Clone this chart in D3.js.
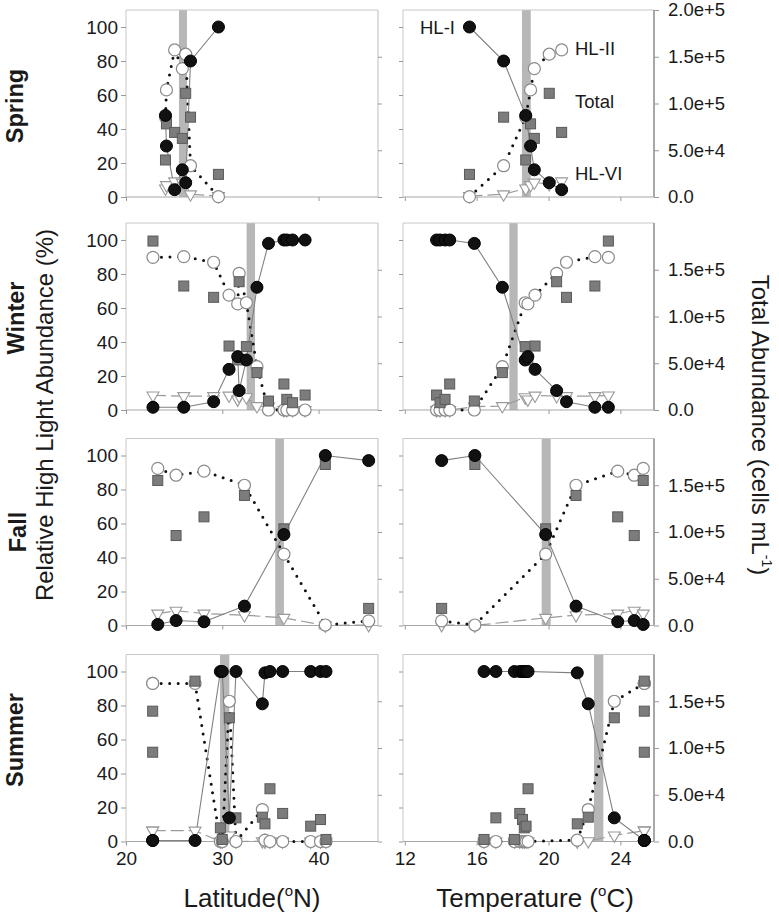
<!DOCTYPE html>
<html><head><meta charset="utf-8">
<script src="https://cdn.jsdelivr.net/npm/d3@7"></script>
<style>
body{margin:0;background:#fff;}
svg{display:block;}
text{font-family:"Liberation Sans",Arial,Helvetica,sans-serif;fill:#1a1a1a;}
</style>
</head><body>
<svg id="c" width="779" height="921"></svg>
<script>
// ---- data ----
const seasons = ["Spring", "Winter", "Fall", "Summer"];
// station rows: [latitude (°N), temperature (°C), HL-I %, HL-II %, HL-VI %, total cells mL-1]
const springData = [
  [29.6, 15.6, 100, 0.2, 0.6, 24200],
  [26.7, 17.5, 80, 18.4, 1.6, 85400],
  [24.2, 19.0, 30, 63, 7, 78200],
  [24.1, 18.73, 48, 47, 5, 39600],
  [25.85, 19.21, 16, 75.5, 8.5, 62700],
  [26.2, 20.04, 8.4, 84, 7.6, 110900],
  [25.05, 20.73, 4.3, 86.5, 9.2, 69100]
];
const winterData = [
  [22.8, 23.33, 1.6, 89.8, 8.6, 180700],
  [26.0, 22.58, 1.6, 90.2, 8.2, 132600],
  [29.1, 21.0, 4.9, 86.9, 8.2, 120500],
  [30.7, 19.25, 23.9, 67.6, 8.5, 68400],
  [31.6, 18.85, 31.4, 62.4, 6.2, 53500],
  [31.75, 20.45, 11.4, 80.4, 8.2, 137200],
  [32.5, 18.7, 29.4, 63.1, 7.5, 67800],
  [33.6, 17.43, 72.2, 25.5, 2.3, 40000],
  [34.8, 15.87, 98, 0, 2, 9600],
  [36.4, 14.5, 100, 0, 0, 27800],
  [36.7, 14.24, 100, 0, 0, 11400],
  [37.3, 13.96, 100, 0, 0, 7800],
  [38.6, 13.77, 100, 0, 0, 16000]
];
const fallData = [
  [23.3, 25.27, 0.6, 92.4, 7.0, 155100],
  [25.2, 24.77, 2.9, 88.4, 8.7, 96200],
  [28.1, 23.85, 2.2, 90.8, 7.0, 116200],
  [32.3, 21.53, 11.4, 82.5, 6.1, 139100],
  [36.4, 19.84, 53.5, 42.0, 4.5, 103400],
  [40.7, 15.9, 100, 0.3, 0, 172200],
  [45.2, 14.05, 97.0, 2.7, 0.3, 18300]
];
const summerData = [
  [22.77, 25.33, 0.6, 93.0, 6.4, 139400],
  [22.77, 25.33, 0.6, 93.0, 6.4, 95500],
  [27.17, 25.33, 0.6, 93.0, 6.4, 171500],
  [29.8, 18.65, 100, 0, 0, 14600],
  [30.0, 16.41, 100, 0, 0, 2200],
  [30.73, 23.66, 13.9, 82.5, 3.6, 132300],
  [31.42, 17.07, 100, 0, 0, 25300],
  [34.16, 22.21, 81, 18.8, 0.2, 26000],
  [34.43, 21.6, 99.2, 0.8, 0, 18900],
  [34.95, 18.86, 100, 0, 0, 56400],
  [36.27, 18.4, 100, 0, 0, 30000],
  [39.18, 18.75, 100, 0, 0, 16400],
  [40.2, 18.55, 100, 0, 0, 23500],
  [40.77, 18.1, 100, 0, 0, 2200]
];
// transition zones (grey bars)
const latBands = [[25.5, 26.33], [32.53, 33.4], [35.5, 36.4], [29.76, 30.73]];
const tempBands = [[18.52, 19.01], [17.82, 18.28], [19.62, 20.12], [22.53, 23.05]];
const latTicks = [20, 30, 40];
const tempTicks = [12, 16, 20, 24];
const pctTicks = [0, 20, 40, 60, 80, 100];
const totalTicks = [0, 5e4, 1e5, 1.5e5, 2e5];
const totalTickLabels = ["0.0", "5.0e+4", "1.0e+5", "1.5e+5", "2.0e+5"];
const seriesNames = ["HL-I", "HL-II", "Total", "HL-VI"];

// ---- drawing ----
const FONT = "Liberation Sans, Arial, Helvetica, sans-serif";
const svg = d3.select("#c");
const seasonData = [springData, winterData, fallData, summerData];
const panelTop = [10, 223, 438.5, 654.5], panelH = 187;
const cols = [
  {key: 0, range: [126, 378], domain: [20, 46.17], ticks: latTicks, bands: latBands},
  {key: 1, range: [403, 654], domain: [11.9, 25.87], ticks: tempTicks, bands: tempBands}
];

function styleAxis(ax) {
  ax.select(".domain").remove();
  ax.attr("font-size", 19).attr("font-family", FONT);
  ax.selectAll(".tick line").attr("stroke", "#999");
  ax.selectAll("text").attr("fill", "#1a1a1a");
}

seasons.forEach((s, i) => {
  const top = panelTop[i], bottom = top + panelH;
  const yP = d3.scaleLinear().domain([0, 110]).range([bottom, top]);
  const yT = d3.scaleLinear().domain([0, 2e5]).range([bottom, top]);
  cols.forEach((c, ci) => {
    const x = d3.scaleLinear().domain(c.domain).range(c.range);
    const g = svg.append("g");
    const data = seasonData[i].slice().sort((a, b) => a[c.key] - b[c.key]);
    const b = c.bands[i];
    g.append("rect").attr("x", x(b[0])).attr("width", x(b[1]) - x(b[0]))
      .attr("y", top).attr("height", panelH).attr("fill", "#b7b7b7");

    // frame
    const [x0, x1] = c.range;
    g.append("line").attr("x1", x0).attr("x2", x1).attr("y1", top).attr("y2", top).attr("stroke", "#c8c8c8");
    g.append("line").attr("x1", x0).attr("x2", x0).attr("y1", top).attr("y2", bottom).attr("stroke", "#c8c8c8");
    g.append("line").attr("x1", x1).attr("x2", x1).attr("y1", top).attr("y2", bottom)
      .attr("stroke", ci === 1 ? "#a8a8a8" : "#bdbdbd").attr("stroke-width", ci === 1 ? 2 : 1);
    g.append("line").attr("x1", x0).attr("x2", x1).attr("y1", bottom).attr("y2", bottom).attr("stroke", "#a8a8a8").attr("stroke-width", 1.2);

    // axes
    if (ci === 0) {
      const a1 = g.append("g").attr("transform", `translate(${x0},0)`)
        .call(d3.axisLeft(yP).tickValues(pctTicks).tickSize(5).tickPadding(3));
      styleAxis(a1);
      const a2 = g.append("g").attr("transform", `translate(${x1},0)`)
        .call(d3.axisRight(yT).tickValues(totalTicks.slice(0, 4)).tickSize(4).tickFormat(""));
      styleAxis(a2);
    } else {
      const a1 = g.append("g").attr("transform", `translate(${x0},0)`)
        .call(d3.axisLeft(yP).tickValues(pctTicks).tickSize(4).tickFormat(""));
      styleAxis(a1);
      const a2 = g.append("g").attr("transform", `translate(${x1},0)`)
        .call(d3.axisRight(yT).tickValues(i === 0 ? totalTicks : totalTicks.slice(0, 4))
          .tickSize(5).tickPadding(9).tickFormat(d => totalTickLabels[totalTicks.indexOf(d)]));
      styleAxis(a2);
      a2.attr("font-size", 18.5);
    }
    const a3 = g.append("g").attr("transform", `translate(0,${bottom})`)
      .call(d3.axisBottom(x).tickValues(c.ticks).tickSize(4).tickPadding(6.5)
        .tickFormat(i === 3 ? d3.format("d") : ""));
    styleAxis(a3);

    // lines
    const lineOf = k => d3.line().x(d => x(d[c.key])).y(d => yP(d[k]));
    g.append("path").datum(data).attr("d", lineOf(4)).attr("fill", "none")
      .attr("stroke", "#9a9a9a").attr("stroke-width", 1.2).attr("stroke-dasharray", "13 5");
    g.append("path").datum(data).attr("d", lineOf(3)).attr("fill", "none")
      .attr("stroke", "#111").attr("stroke-width", 3).attr("stroke-linecap", "round").attr("stroke-dasharray", "0 8.5");
    g.append("path").datum(data).attr("d", lineOf(2)).attr("fill", "none")
      .attr("stroke", "#808080").attr("stroke-width", 1.1);

    // markers
    const tri = d3.symbol(d3.symbolTriangle, 62);
    g.append("g").selectAll("path").data(data).join("path")
      .attr("d", tri)
      .attr("transform", d => `translate(${x(d[c.key])},${yP(d[4])}) rotate(180)`)
      .attr("fill", "#fff").attr("stroke", "#9a9a9a").attr("stroke-width", 1.1);
    g.append("g").selectAll("circle").data(data).join("circle")
      .attr("cx", d => x(d[c.key])).attr("cy", d => yP(d[3])).attr("r", 6)
      .attr("fill", "#fff").attr("stroke", "#8a8a8a").attr("stroke-width", 1.2);
    g.append("g").selectAll("rect").data(data).join("rect")
      .attr("x", d => x(d[c.key]) - 5).attr("y", d => yT(d[5]) - 5)
      .attr("width", 10).attr("height", 10)
      .attr("fill", "#7c7c7c").attr("stroke", "#5a5a5a").attr("stroke-width", 1);
    g.append("g").selectAll("circle").data(data).join("circle")
      .attr("cx", d => x(d[c.key])).attr("cy", d => yP(d[2])).attr("r", 6)
      .attr("fill", "#111").attr("stroke", "#000").attr("stroke-width", 1);

    // legend labels in first right panel
    if (i === 0 && ci === 1) {
      const lg = [[x0 + 17, top + 24], [x0 + 172, top + 45], [x0 + 172, top + 98], [x0 + 172, top + 170]];
      seriesNames.forEach((n, k) => {
        g.append("text").attr("x", lg[k][0]).attr("y", lg[k][1]).attr("font-size", 18.5).text(n);
      });
    }
  });
});

// season labels
const seasonLabelPos = [[23, 106], [24, 318], [26, 532], [23, 740]];
seasons.forEach((s, i) => {
  svg.append("text").attr("transform", `translate(${seasonLabelPos[i][0]},${seasonLabelPos[i][1]}) rotate(-90)`)
    .attr("text-anchor", "middle").attr("font-size", 23.5).attr("font-weight", "bold").text(s);
});

// axis titles
svg.append("text").attr("transform", "translate(53,415) rotate(-90)")
  .attr("text-anchor", "middle").attr("font-size", 24).text("Relative High Light Abundance (%)");

const rt = svg.append("text").attr("transform", "translate(752,425) rotate(90)")
  .attr("text-anchor", "middle").attr("font-size", 24);
rt.append("tspan").text("Total Abundance (cells mL");
rt.append("tspan").attr("font-size", 14).attr("dy", -10).text("-1");
rt.append("tspan").attr("dy", 10).text(")");

const xt1 = svg.append("text").attr("x", 252).attr("y", 907).attr("text-anchor", "middle").attr("font-size", 26);
xt1.append("tspan").text("Latitude(");
xt1.append("tspan").attr("font-size", 15).attr("dy", -11).text("o");
xt1.append("tspan").attr("dy", 11).text("N)");

const xt2 = svg.append("text").attr("x", 535).attr("y", 907).attr("text-anchor", "middle").attr("font-size", 26);
xt2.append("tspan").text("Temperature (");
xt2.append("tspan").attr("font-size", 15).attr("dy", -11).text("o");
xt2.append("tspan").attr("dy", 11).text("C)");
</script>
</body></html>
